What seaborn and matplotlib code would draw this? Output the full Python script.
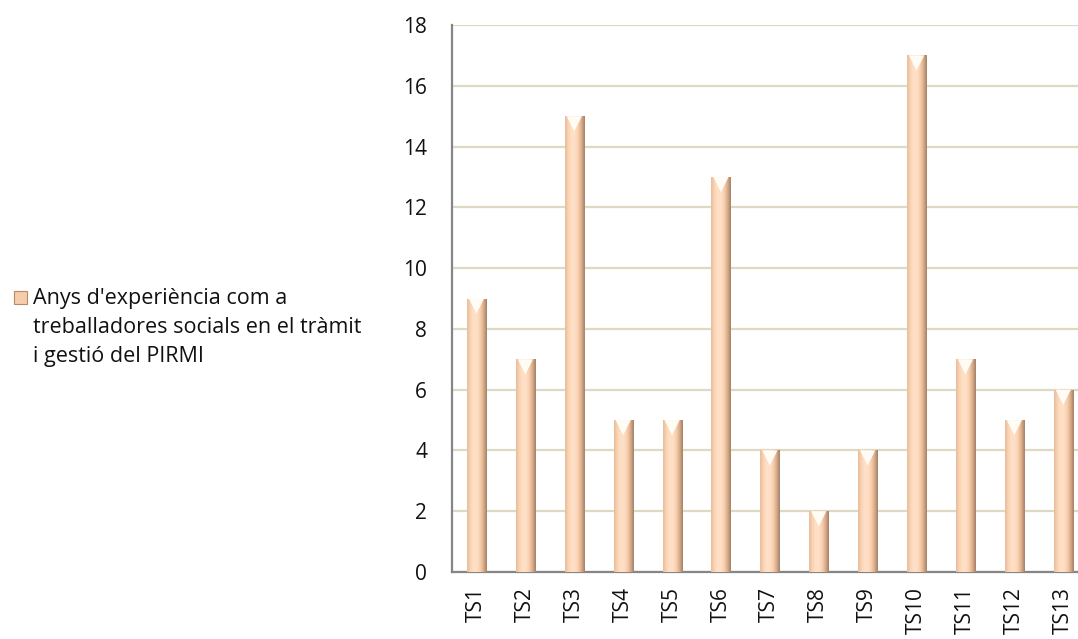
import matplotlib
matplotlib.use("Agg")
import matplotlib.pyplot as plt
import numpy as np
import pandas as pd
import seaborn as sns
from matplotlib.patches import Polygon, Rectangle
from matplotlib.colors import LinearSegmentedColormap

categories = ["TS1", "TS2", "TS3", "TS4", "TS5", "TS6", "TS7", "TS8", "TS9", "TS10", "TS11", "TS12", "TS13"]
years = [9, 7, 15, 5, 5, 13, 4, 2, 4, 17, 7, 5, 6]
series_label = "Anys d'experiència com a\ntreballadores socials en el tràmit\ni gestió del PIRMI"
y_ticks = [0, 2, 4, 6, 8, 10, 12, 14, 16, 18]

df = pd.DataFrame({"cat": categories, "val": years})

sns.set_style("white")
plt.rcParams["font.family"] = ["Open Sans", "DejaVu Sans"]

W, H = 1078, 639
fs = 15
fig = plt.figure(figsize=(W / 100, H / 100), dpi=100)
# axis spans past the right edge of the picture, as in the reference
left, right, top, bottom = 452, 452 + 13 * 48.9, 25, 572
ax = fig.add_axes([left / W, 1 - bottom / H, (right - left) / W, (bottom - top) / H])

bar_w = 0.39
sns.barplot(data=df, x="cat", y="val", color="#FBD5B5", width=bar_w, ax=ax,
            edgecolor="none", zorder=3)

# shading: slightly darker sides, light centre, dark shadow on the right
shade = LinearSegmentedColormap.from_list(
    "peach", ["#E8BC9A", "#FAD4B4", "#FFE0C6", "#FFE0C6", "#F8CFAE", "#DDAE8A", "#A2806A"])
grad = np.linspace(0, 1, 64).reshape(1, -1)
for patch in list(ax.patches):
    x0, w, h = patch.get_x(), patch.get_width(), patch.get_height()
    im = ax.imshow(grad, cmap=shade, aspect="auto", extent=(x0, x0 + w, 0, h),
                   zorder=3.5, interpolation="bicubic")
    im.set_clip_path(patch)
    tri_h = 0.5
    ax.add_patch(Polygon([(x0 + 0.1 * w, h), (x0 + 0.9 * w, h), (x0 + w / 2, h - tri_h)],
                         closed=True, facecolor="#FFFBF5", edgecolor="none", zorder=4))

ax.set_xlim(-0.5, 12.5)
ax.set_ylim(0, 18)
ax.set_yticks(y_ticks)
ax.yaxis.grid(True, color="#DDD9C3", linewidth=1.6, zorder=0)
ax.set_axisbelow(True)
ax.set_xlabel("")
ax.set_ylabel("")

ax.set_xticks(range(len(categories)))
ax.set_xticklabels(categories, rotation=90, fontsize=fs, color="#111111")
ax.set_xticks(np.arange(-0.5, 13, 1), minor=True)
ax.tick_params(axis="x", which="major", length=0, pad=11)
ax.tick_params(axis="x", which="minor", length=7, width=1.3, color="#868686", direction="out")
ax.tick_params(axis="y", which="major", length=7, width=1.3, color="#868686",
               direction="out", labelsize=fs, pad=11, labelcolor="#111111")

for s in ["top", "right"]:
    ax.spines[s].set_visible(False)
for s in ["left", "bottom"]:
    ax.spines[s].set_color("#868686")
    ax.spines[s].set_linewidth(1.6)

# legend on the left
sq = Rectangle((14 / W, 1 - 304 / H), 13 / W, 13 / H, transform=fig.transFigure,
               facecolor="#F6CDAA", edgecolor="#B88A68", linewidth=0.8)
fig.add_artist(sq)
fig.text(33 / W, 1 - 288 / H, series_label, fontsize=fs + 0.5, va="top", ha="left",
         linespacing=1.5, color="#111111")

fig.savefig("out.png", dpi=100)
